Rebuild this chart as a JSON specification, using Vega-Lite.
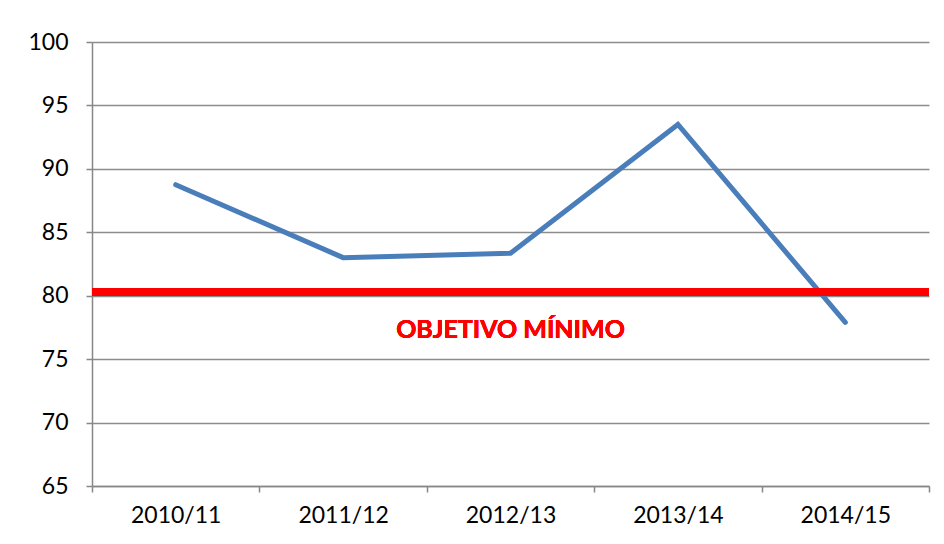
{
  "$schema": "https://vega.github.io/schema/vega-lite/v6.json",
  "width": 837,
  "height": 444,
  "autosize": {"type": "none"},
  "padding": {"left": 92, "top": 42, "right": 15, "bottom": 58},
  "background": "white",
  "config": {
    "view": {"stroke": null},
    "font": "Lato",
    "axis": {
      "labelFont": "Lato",
      "labelFontSize": 23,
      "labelColor": "#000000",
      "domainColor": "#878787",
      "domainWidth": 1.5,
      "tickColor": "#878787",
      "tickWidth": 1.5,
      "tickSize": 6,
      "gridColor": "#8c8c8c",
      "gridWidth": 1.5,
      "title": null
    }
  },
  "data": {
    "values": [
      {"season": "2010/11", "value": 88.75},
      {"season": "2011/12", "value": 83.0},
      {"season": "2012/13", "value": 83.35},
      {"season": "2013/14", "value": 93.5},
      {"season": "2014/15", "value": 77.9}
    ]
  },
  "layer": [
    {
      "mark": {"type": "line", "color": "#4a7ebb", "strokeWidth": 5, "strokeCap": "round", "strokeJoin": "miter"},
      "encoding": {
        "x": {
          "field": "season",
          "type": "nominal",
          "sort": null,
          "scale": {"paddingInner": 0, "paddingOuter": 0},
          "axis": {"labelAngle": 0, "tickBand": "extent", "grid": false, "labelPadding": 12}
        },
        "y": {
          "field": "value",
          "type": "quantitative",
          "scale": {"domain": [65, 100], "zero": false, "nice": false},
          "axis": {"values": [65, 70, 75, 80, 85, 90, 95, 100], "grid": true, "labelPadding": 18}
        }
      }
    },
    {
      "mark": {"type": "rule", "color": "#ff0000", "strokeWidth": 8},
      "encoding": {"y": {"datum": 80.3}}
    },
    {
      "mark": {"type": "text", "text": "OBJETIVO MÍNIMO", "color": "#ff0000", "fontSize": 25, "fontWeight": "bold", "font": "Lato"},
      "encoding": {
        "x": {"datum": "2012/13"},
        "y": {"datum": 77.3}
      }
    }
  ]
}
